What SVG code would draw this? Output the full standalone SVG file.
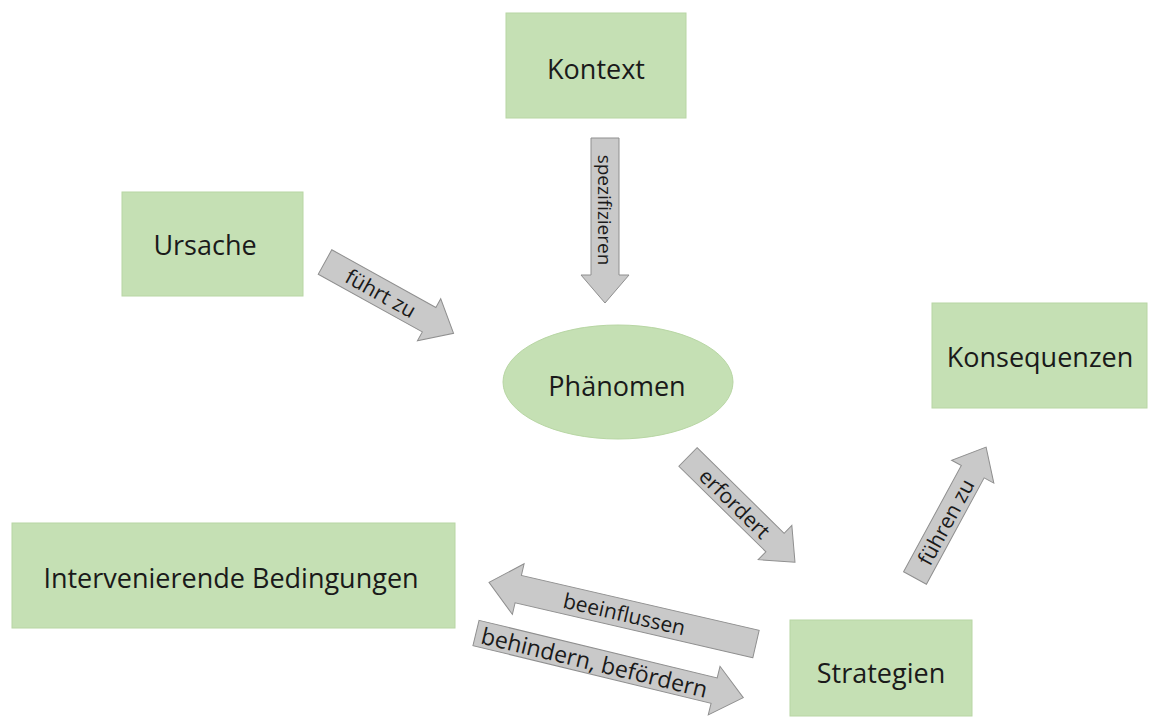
<svg xmlns="http://www.w3.org/2000/svg" width="1161" height="718" viewBox="0 0 1161 718">
<style>
.node{fill:#c5e0b4;stroke:#b8d6a4;stroke-width:1}
.nt{font-family:"Open Sans","Noto Sans",sans-serif;font-size:27px;fill:#1a1a1a;text-anchor:middle;dominant-baseline:central}
.arr{fill:#c9c9c9;stroke:#8f8f8f;stroke-width:1}
.at{font-family:"Open Sans","Noto Sans",sans-serif;font-size:21px;fill:#1a1a1a;text-anchor:middle;dominant-baseline:central}
</style>
<rect width="1161" height="718" fill="#ffffff"/>
<g id="kontext"><rect class="node" x="506" y="13" width="180" height="105"/><text class="nt" x="596" y="68">Kontext</text></g>
<g id="ursache"><rect class="node" x="122" y="192" width="181" height="104"/><text class="nt" x="205" y="244">Ursache</text></g>
<g id="phaenomen"><ellipse class="node" cx="618" cy="382" rx="115" ry="57"/><text class="nt" x="617" y="385">Phänomen</text></g>
<g id="konsequenzen"><rect class="node" x="932" y="303" width="215" height="105"/><text class="nt" x="1040" y="356">Konsequenzen</text></g>
<g id="intervenierende"><rect class="node" x="12" y="523" width="443" height="105"/><text class="nt" x="231" y="577">Intervenierende Bedingungen</text></g>
<g id="strategien"><rect class="node" x="790" y="620" width="182" height="96"/><text class="nt" x="881" y="672">Strategien</text></g>
<g id="connectors">
<g transform="translate(605,138) rotate(90)"><polygon class="arr" points="0,-14 137,-14 137,-24 165,0 137,24 137,14 0,14"/><text class="at" x="72" y="0" style="font-size:19px">spezifizieren</text></g>
<g transform="translate(325,262) rotate(29)"><polygon class="arr" points="0,-14 119,-14 119,-24 147,0 119,24 119,14 0,14"/><text class="at" x="64" y="0">führt zu</text></g>
<g transform="translate(688,457) rotate(44.5)"><polygon class="arr" points="0,-13 122,-13 122,-24 150,0 122,24 122,13 0,13"/><text class="at" x="66" y="0">erfordert</text></g>
<g transform="translate(915,578) rotate(-61.5)"><polygon class="arr" points="0,-13 121,-13 121,-24 149,0 121,24 121,13 0,13"/><text class="at" x="64" y="0">führen zu</text></g>
<g transform="translate(756,644) rotate(193)"><polygon class="arr" points="0,-14 244,-14 244,-26 274,0 244,26 244,14 0,14"/><text class="at" x="135" y="0" transform="rotate(180 135 0)">beeinflussen</text></g>
<g transform="translate(476,633) rotate(13.6)"><polygon class="arr" points="0,-13 245,-13 245,-25 275,0 245,25 245,13 0,13"/><text class="at" x="122" y="0" style="font-size:23px">behindern, befördern</text></g>
</g>
</svg>
